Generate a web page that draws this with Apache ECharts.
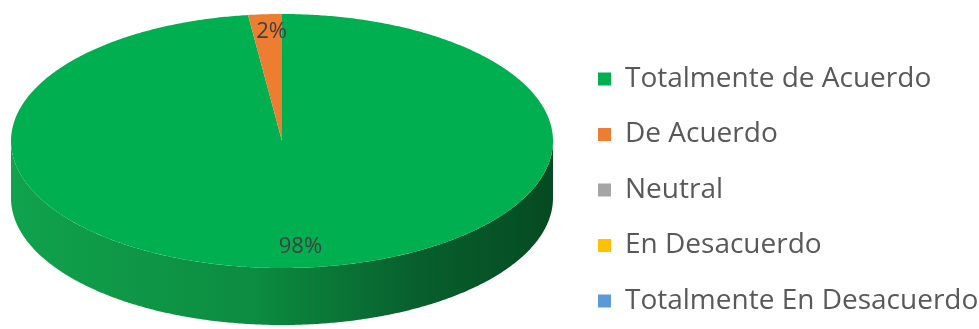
<!DOCTYPE html>
<html><head><meta charset="utf-8">
<script src="https://cdn.jsdelivr.net/npm/echarts@6/dist/echarts.min.js"></script>
<style>html,body{margin:0;padding:0;background:#fff}#c{width:979px;height:329px}</style>
</head><body><div id="c"></div>
<script>
// ---- data ----
const categories = ['Totalmente de Acuerdo', 'De Acuerdo', 'Neutral', 'En Desacuerdo', 'Totalmente En Desacuerdo'];
const values = [98, 2, 0, 0, 0];
const colors = ['#00B050', '#ED7D31', '#A5A5A5', '#FFC000', '#5B9BD5'];
const sideColors = [
  ['#10A24C', '#0C8C40', '#085F2D', '#054A22'],
  ['#D86A22', '#C25E1D', '#A04D16', '#8A4213'],
  ['#949494', '#858585', '#6E6E6E', '#5E5E5E'],
  ['#E6AD00', '#CC9A00', '#A67D00', '#8C6A00'],
  ['#5089BE', '#4479A9', '#37628A', '#2E5374']
];

// ---- geometry (3D elliptical pie) ----
const G = { cx: 282, cy: 141, rx: 271, ry: 127, depth: 57, labelR: 0.85 };
const total = values.reduce((a, b) => a + b, 0);
const starts = [];
(function () { let acc = 0; values.forEach(v => { starts.push(acc); acc += v; }); })();

function pt(t, dy) {
  return [G.cx + G.rx * Math.sin(t), G.cy - G.ry * Math.cos(t) + (dy || 0)];
}
function arc(a, b, dy) {
  const pts = [];
  const n = Math.max(2, Math.ceil((b - a) / (Math.PI / 360)));
  for (let i = 0; i <= n; i++) pts.push(pt(a + (b - a) * i / n, dy));
  return pts;
}

function renderItem(params, api) {
  const i = params.dataIndex;
  const v = api.value(0);
  if (!(v > 0)) return null;
  const a0 = starts[i] / total * Math.PI * 2;
  const a1 = (starts[i] + v) / total * Math.PI * 2;
  const children = [];
  // side wall (front half only)
  const s = Math.max(a0, Math.PI / 2), e = Math.min(a1, Math.PI * 3 / 2);
  if (s < e) {
    const top = arc(s, e, 0);
    const bot = arc(s, e, G.depth).reverse();
    const sc = sideColors[i];
    children.push({
      type: 'polygon', z2: 1,
      shape: { points: top.concat(bot) },
      style: {
        fill: { type: 'linear', x: G.cx - G.rx, y: 0, x2: G.cx + G.rx, y2: 0, global: true,
          colorStops: [{ offset: 0, color: sc[0] }, { offset: 0.45, color: sc[1] }, { offset: 0.75, color: sc[2] }, { offset: 1, color: sc[3] }] }
      }
    });
  }
  // top face
  children.push({
    type: 'polygon', z2: 2,
    shape: { points: [[G.cx, G.cy]].concat(arc(a0, a1, 0)) },
    style: { fill: colors[i] }
  });
  // label
  const m = (a0 + a1) / 2;
  const lp = [G.cx + G.rx * G.labelR * Math.sin(m) + 4, G.cy - G.ry * G.labelR * Math.cos(m) - 2];
  children.push({
    type: 'text', z2: 3,
    x: lp[0], y: lp[1],
    style: {
      text: Math.round(v / total * 100) + '%',
      align: 'center', verticalAlign: 'middle',
      fill: '#404040', fontSize: 22, fontFamily: '"Open Sans", sans-serif'
    }
  });
  return { type: 'group', children };
}

const chart = echarts.init(document.getElementById('c'), null, { renderer: 'canvas' });
chart.setOption({
  animation: false,
  backgroundColor: '#ffffff',
  legend: {
    orient: 'vertical',
    left: 598, top: 65,
    padding: 0,
    icon: 'rect',
    itemWidth: 13, itemHeight: 13,
    itemGap: 27.5,
    selectedMode: false,
    data: categories,
    textStyle: { color: '#595959', fontSize: 28, lineHeight: 28, fontFamily: '"Open Sans", sans-serif', padding: [0, 0, 0, 9] }
  },
  series: [
    {
      type: 'custom',
      coordinateSystem: 'none',
      silent: true,
      data: values.map((v, i) => ({ name: categories[i], value: [v] })),
      renderItem: renderItem
    },
    {
      // invisible pie used only to feed legend entries
      type: 'pie',
      center: [-200, -200], radius: [0, 1],
      silent: true,
      label: { show: false }, labelLine: { show: false },
      data: values.map((v, i) => ({ name: categories[i], value: v, itemStyle: { color: colors[i] } }))
    }
  ]
});
</script>
</body></html>
